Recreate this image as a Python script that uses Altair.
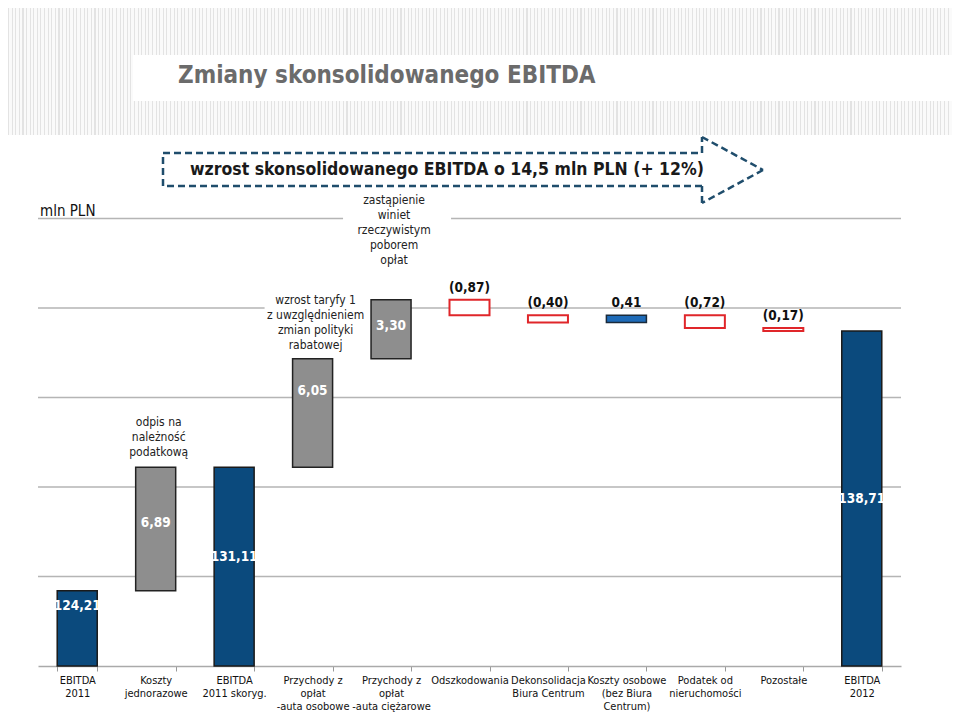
import altair as alt
import pandas as pd

# ---------------- data ----------------
categories = [
    "EBITDA\n2011", "Koszty\njednorazowe", "EBITDA\n2011 skoryg.",
    "Przychody z\nopłat\n-auta osobowe", "Przychody z\nopłat\n-auta ciężarowe",
    "Odszkodowania", "Dekonsolidacja\nBiura Centrum",
    "Koszty osobowe\n(bez Biura\nCentrum)", "Podatek od\nnieruchomości",
    "Pozostałe", "EBITDA\n2012",
]
values = [124.21, 6.89, 131.11, 6.05, 3.30, -0.87, -0.40, 0.41, -0.72, -0.17, 138.71]
kinds = ["total", "oneoff", "total", "oneoff", "oneoff", "neg", "neg", "pos", "neg", "neg", "total"]
label_frac = [0.8, 0.55, 0.55, 0.7, 0.55, None, None, None, None, None, 0.5]

annot_cats = [categories[1], categories[3], categories[4]]
annot_texts = [
    "odpis na\nnależność\npodatkową",
    "wzrost taryfy 1\nz uwzględnieniem\nzmian polityki\nrabatowej",
    "zastąpienie\nwiniet\nrzeczywistym\npoborem\nopłat",
]
annot_gap = [6, 5, 31]  # px above bar top

grid_values = [125, 130, 135, 140, 145]
axis_min, axis_max = 120, 145

title_text = "Zmiany skonsolidowanego EBITDA"
arrow_text = "wzrost skonsolidowanego EBITDA o 14,5 mln PLN (+ 12%)"
unit_text = "mln PLN"

# ---------------- layout constants ----------------
W, H = 944, 658
Y_TOP_PX = 210.5
PPU = (H - Y_TOP_PX) / (axis_max - axis_min)
LINE_H = 15

FONT = "DejaVu Sans Condensed, DejaVu Sans, sans-serif"
NUM_FONT = "Liberation Sans Narrow, Arial Narrow, DejaVu Sans Condensed, sans-serif"

# ---------------- waterfall table ----------------
rows = []
running = 0.0
for i, (c, v, k) in enumerate(zip(categories, values, kinds)):
    if k == "total":
        start, end = axis_min, v
        running = v
    else:
        start, end = running, running + v
        running = end
    s = f"{abs(v):.2f}".replace(".", ",")
    lab = f"({s})" if v < 0 else s
    top = max(start, end)
    frac = label_frac[i]
    rows.append(dict(cat=c, start=start, end=end, kind=k, label=lab, top=top,
                     inside=frac is not None,
                     ly=(start + frac * (end - start)) if frac is not None else top))
df = pd.DataFrame(rows)

ann_rows = []
for c, t, g in zip(annot_cats, annot_texts, annot_gap):
    top = df.loc[df.cat == c, "top"].iloc[0]
    n = t.count("\n") + 1
    ann_rows.append(dict(cat=c, text=t, top=top,
                         ty=top + (g + n * LINE_H - 1) / PPU,
                         b0=top + (g - 2) / PPU, b1=top + (g + n * LINE_H + 2) / PPU))
ann = pd.DataFrame(ann_rows)

grid = pd.DataFrame({"g": grid_values})
one = pd.DataFrame({"a": [0]})

y_scale = alt.Scale(domain=[axis_min, axis_max], range=[H, Y_TOP_PX], zero=False, nice=False)
x_scale = alt.Scale(domain=categories, range=[30, 893], paddingInner=0.49, paddingOuter=0.245)
x_axis = alt.Axis(
    title=None, labelAngle=0, labelExpr="split(datum.label, '\\n')",
    labelFont=FONT, labelFontSize=11, labelColor="#111", labelLineHeight=13,
    labelPadding=3, labelLimit=300, tickBand="extent", tickSize=5, tickColor="#999",
    tickWidth=1, domainColor="#aaa", domainWidth=1.5, grid=False,
)
X = alt.X("cat:N", scale=x_scale, axis=x_axis, sort=categories)

# ---------------- background decoration (striped header) ----------------
period = 3.6
n_str = int(W / period)
stops = []
for i in range(n_str):
    a = i * period / W
    b = (i * period + 1.1) / W
    c = (i + 1) * period / W
    stops += [alt.GradientStop(offset=min(a, 1), color="#e3e3e3"),
              alt.GradientStop(offset=min(b, 1), color="#e3e3e3"),
              alt.GradientStop(offset=min(b, 1), color="#fafafa"),
              alt.GradientStop(offset=min(c, 1), color="#fafafa")]
stripes = alt.LinearGradient(gradient="linear", stops=stops, x1=0, x2=1, y1=0, y2=0)

bg_grey = alt.Chart(one).mark_rect(color=stripes).encode(
    x=alt.value(0), x2=alt.value(W), y=alt.value(0), y2=alt.value(127))
bg_white = alt.Chart(one).mark_rect(color="#ffffff").encode(
    x=alt.value(125), x2=alt.value(W), y=alt.value(47), y2=alt.value(93))
title = alt.Chart(one).mark_text(
    text=title_text, font=FONT, fontSize=24, fontWeight="bold", color="#6b6b6b",
    align="left", baseline="middle").encode(x=alt.value(170), y=alt.value(68))

gridlines = alt.Chart(grid).mark_rule(color="#b5b5b5", strokeWidth=1.5).encode(
    y=alt.Y("g:Q", scale=y_scale, axis=None), x=alt.value(30), x2=alt.value(893))

unit = alt.Chart(one).mark_text(
    text=unit_text, font=FONT, fontSize=15, color="#111", align="left",
    baseline="middle").encode(x=alt.value(32), y=alt.value(203))

# arrow (dashed outline)
segs = [((155, 145), (694, 145)), ((694, 145), (694, 129)), ((694, 129), (755, 162)),
        ((755, 162), (694, 195)), ((694, 195), (694, 178)), ((694, 178), (155, 178)),
        ((155, 178), (155, 145))]
arrow_layers = [
    alt.Chart(one).mark_rule(color="#1f4d6c", strokeWidth=2.5, strokeDash=[7, 4]).encode(
        x=alt.value(a[0]), y=alt.value(a[1]), x2=alt.value(b[0]), y2=alt.value(b[1]))
    for a, b in segs
]
arrow_txt = alt.Chart(one).mark_text(
    text=arrow_text, font=FONT, fontSize=17.5, fontWeight="bold", color="#1a1a1a",
    align="center", baseline="middle").encode(x=alt.value(439), y=alt.value(162))

# ---------------- bars ----------------
base = alt.Chart(df)
Y = alt.Y("start:Q", scale=y_scale, axis=None)
bars_total = base.transform_filter("datum.kind == 'total'").mark_bar(
    color="#0b4a7d", stroke="#1a1a1a", strokeWidth=1.5).encode(x=X, y=Y, y2="end:Q")
bars_one = base.transform_filter("datum.kind == 'oneoff'").mark_bar(
    color="#8e8e8e", stroke="#222222", strokeWidth=1.5).encode(x=X, y=Y, y2="end:Q")
bars_neg = base.transform_filter("datum.kind == 'neg'").mark_bar(
    color="#ffffff", stroke="#e0262a", strokeWidth=2).encode(x=X, y=Y, y2="end:Q")
bars_pos = base.transform_filter("datum.kind == 'pos'").mark_bar(
    color="#1e6bb8", stroke="#1a2a3a", strokeWidth=1.5).encode(x=X, y=Y, y2="end:Q")

lab_in = base.transform_filter("datum.inside").mark_text(
    font=NUM_FONT, fontSize=13.5, fontWeight="bold", color="#ffffff", baseline="middle").encode(
    x=X, y=alt.Y("ly:Q", scale=y_scale, axis=None), text="label:N")
lab_out = base.transform_filter("!datum.inside").mark_text(
    font=NUM_FONT, fontSize=13.5, fontWeight="bold", color="#111111", baseline="bottom",
    dy=-5).encode(
    x=X, y=alt.Y("ly:Q", scale=y_scale, axis=None), text="label:N")

# annotations with white background boxes
ann_bg = alt.Chart(ann).mark_bar(color="#ffffff", width=108, xOffset=6).encode(
    x=X, y=alt.Y("b0:Q", scale=y_scale, axis=None), y2="b1:Q")
ann_txt = alt.Chart(ann).mark_text(
    font=FONT, fontSize=12, color="#222222", lineBreak="\n", lineHeight=LINE_H,
    baseline="top", dx=3).encode(
    x=X, y=alt.Y("ty:Q", scale=y_scale, axis=None), text="text:N")

chart = alt.layer(
    bg_grey, bg_white, title, gridlines, unit, ann_bg,
    bars_total, bars_one, bars_neg, bars_pos, lab_in, lab_out,
    ann_txt, *arrow_layers, arrow_txt,
).properties(
    width=W, height=H, autosize=alt.AutoSizeParams(type="none"),
    padding={"left": 0, "top": 0, "right": 0, "bottom": 46},
).configure_view(stroke=None)

chart.save("out.html", embed_options={"renderer": "svg", "actions": False})
